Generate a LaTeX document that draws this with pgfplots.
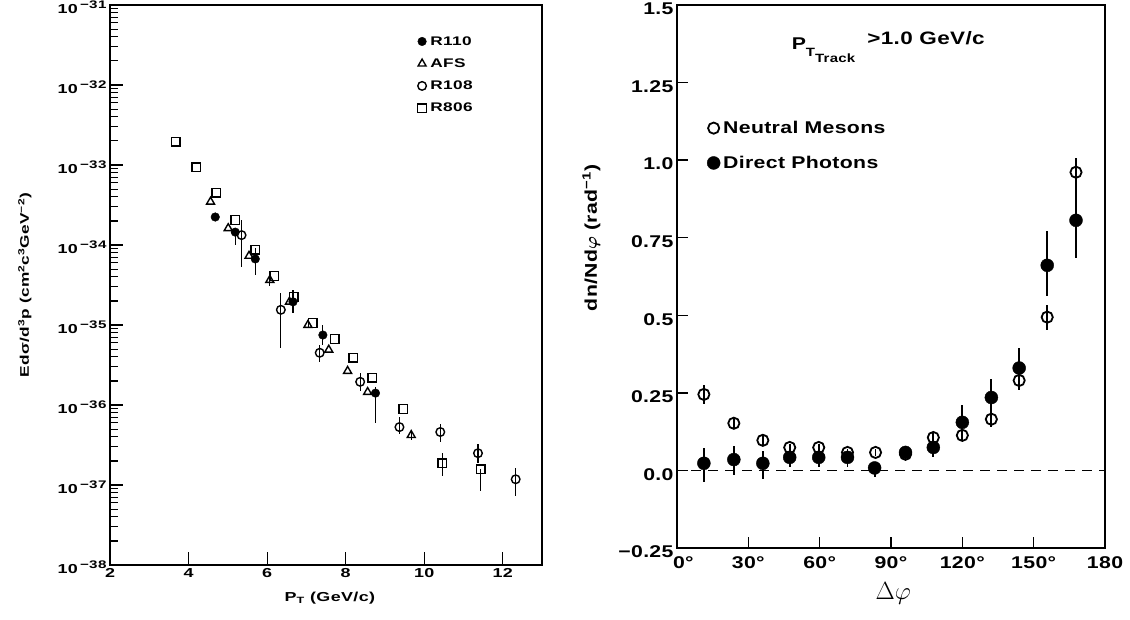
\documentclass[border=0pt]{standalone}
\usepackage{amsmath}
\usepackage{fontspec}
\setmainfont{Liberation Sans}
\newfontfamily\Lf{Liberation Sans}[FakeStretch=1.38, LetterSpace=3]
\newfontfamily\Rf{Liberation Sans}[FakeStretch=1.25, LetterSpace=2]
\usepackage{pgfplots}
\usepackage{pgfplotstable}
\pgfplotsset{compat=1.18}

\pgfplotstableread{
x y ep em
4.68 2.24e-34 0 0
5.19 1.45e-34 0 4.5e-35
5.70 6.7e-35 2.4e-35 2.5e-35
6.66 1.95e-35 8e-36 5.4e-36
7.42 7.5e-36 2.5e-36 1.9e-36
8.76 1.41e-36 2.5e-37 8.1e-37
}\rOneTen
\pgfplotstableread{
x y ep em
4.56 3.47e-34 0 0
5.01 1.62e-34 0 0
5.54 7.3e-35 0 0
6.07 3.65e-35 0 6e-36
6.57 1.95e-35 0 0
7.04 1.0e-35 0 0
7.57 4.9e-36 0 0
8.05 2.66e-36 0 0
8.56 1.45e-36 0 0
9.67 4.2e-37 5e-38 5e-38
}\afs
\pgfplotstableread{
x y ep em
5.35 1.33e-34 7e-35 8e-35
6.35 1.55e-35 1.0e-35 1.03e-35
7.34 4.5e-36 1.1e-36 1.05e-36
8.37 1.95e-36 5.5e-37 4.5e-37
9.37 5.3e-37 1.8e-37 1.0e-37
10.41 4.6e-37 1.2e-37 1.15e-37
11.37 2.5e-37 7.4e-38 6.2e-38
12.33 1.18e-37 4.4e-38 4.5e-38
}\rOneOEight
\pgfplotstableread{
x y ep em
3.67 1.95e-33 0 0
4.20 9.4e-34 0 0
4.71 4.5e-34 0 0
5.19 2.05e-34 0 0
5.70 8.7e-35 0 0
6.18 4.1e-35 0 0
6.68 2.24e-35 0 0
7.16 1.06e-35 0 0
7.72 6.7e-36 0 0
8.20 3.9e-36 0 0
8.68 2.2e-36 0 0
9.47 8.9e-37 0 0
10.46 1.88e-37 6e-38 6e-38
11.44 1.58e-37 0 7.4e-38
}\rEightOSix

\pgfplotstableread{
x y ep em
11.3 0.245 0.03 0.03
23.9 0.152 0.02 0.02
36.1 0.097 0.015 0.015
47.4 0.074 0.01 0.01
59.6 0.074 0.01 0.01
71.7 0.058 0.01 0.01
83.5 0.058 0.01 0.01
96.1 0.052 0.01 0.01
107.8 0.106 0.015 0.015
120.0 0.113 0.015 0.015
132.2 0.165 0.02 0.025
143.9 0.29 0.03 0.03
155.7 0.494 0.04 0.04
167.8 0.961 0.045 0.04
}\mesons
\pgfplotstableread{
x y ep em
11.3 0.023 0.05 0.06
23.9 0.035 0.045 0.05
36.1 0.023 0.04 0.05
47.4 0.042 0.02 0.03
59.6 0.042 0.02 0.03
71.7 0.042 0.02 0.03
83.1 0.008 0.02 0.03
96.1 0.058 0.01 0.01
107.8 0.074 0.025 0.03
120.0 0.155 0.055 0.045
132.2 0.235 0.06 0.06
143.9 0.33 0.065 0.06
155.7 0.661 0.11 0.10
167.8 0.806 0.15 0.12
}\photons

\newcommand{\tenp}[1]{10\,\raisebox{5pt}{\fontsize{11}{11}\selectfont −#1}}

\begin{document}
\begin{tikzpicture}[font=\bfseries]
\useasboundingbox (0pt,0pt) rectangle (1130pt,620pt);

% ---------------- left panel ----------------
\begin{axis}[
  at={(110pt,55pt)}, anchor=south west,
  scale only axis, width=432pt, height=560pt,
  ymode=log, xmin=2, xmax=13, ymin=1e-38, ymax=1e-31,
  xtick={2,4,6,8,10,12},
  xticklabels={2,4,6,8,10,12},
  ytick={1e-38,1e-37,1e-36,1e-35,1e-34,1e-33,1e-32,1e-31},
  yticklabels={\tenp{38},\tenp{37},\tenp{36},\tenp{35},\tenp{34},\tenp{33},\tenp{32},\tenp{31}},
  minor ytick={2e-38,3e-38,4e-38,5e-38,6e-38,7e-38,8e-38,9e-38,
    2e-37,3e-37,4e-37,5e-37,6e-37,7e-37,8e-37,9e-37,
    2e-36,3e-36,4e-36,5e-36,6e-36,7e-36,8e-36,9e-36,
    2e-35,3e-35,4e-35,5e-35,6e-35,7e-35,8e-35,9e-35,
    2e-34,3e-34,4e-34,5e-34,6e-34,7e-34,8e-34,9e-34,
    2e-33,3e-33,4e-33,5e-33,6e-33,7e-33,8e-33,9e-33,
    2e-32,3e-32,4e-32,5e-32,6e-32,7e-32,8e-32,9e-32},
  tick align=inside, xtick pos=bottom, ytick pos=left,
  major tick length=13pt, minor tick length=8pt,
  every tick/.style={black, line width=1.1pt},
  axis line style={line width=1.3pt},
  tick label style={font=\Lf\bfseries\fontsize{13}{14}\selectfont},
  yticklabel style={yshift=-2pt},
  xlabel={P\textsubscript{T} (GeV/c)},
  ylabel={Edσ/d\textsuperscript{3}p (cm\textsuperscript{2}c\textsuperscript{3}GeV\textsuperscript{−2})},
  every axis x label/.style={at={(axis description cs:0.509,-0.059)}, anchor=center, font=\Lf\bfseries\fontsize{13}{15}\selectfont},
  every axis y label/.style={at={(axis description cs:-0.197,0.5)}, anchor=center, rotate=90, font=\Lf\bfseries\fontsize{12.5}{14}\selectfont},
  legend style={at={(axis description cs:0.712,0.948)}, anchor=north west, draw=none, fill=none,
    font=\Lf\bfseries\fontsize{12.5}{14}\selectfont, row sep=8pt, inner sep=0pt,
    nodes={inner xsep=4pt}},
  legend cell align=left,
  error bars/y dir=both, error bars/y explicit,
  error bars/error mark=none,
  error bars/error bar style={line width=1.2pt, black},
]
\addplot[only marks, mark=*, mark size=4.3pt, black]
  table[x=x, y=y, y error plus=ep, y error minus=em] {\rOneTen};
\addlegendentry{R110}
\addplot[only marks, mark=triangle, mark size=4.6pt, black, mark options={line width=1.4pt}]
  table[x=x, y=y, y error plus=ep, y error minus=em] {\afs};
\addlegendentry{AFS}
\addplot[only marks, mark=o, mark size=4.3pt, black, mark options={line width=1.4pt, fill=white}]
  table[x=x, y=y, y error plus=ep, y error minus=em] {\rOneOEight};
\addlegendentry{R108}
\addplot[only marks, mark=square, mark size=4.3pt, black, mark options={line width=1.4pt}]
  table[x=x, y=y, y error plus=ep, y error minus=em] {\rEightOSix};
\addlegendentry{R806}
\end{axis}

% ---------------- right panel ----------------
\begin{axis}[
  at={(677pt,72pt)}, anchor=south west,
  scale only axis, width=428pt, height=543pt,
  xmin=0, xmax=180, ymin=-0.25, ymax=1.5,
  xtick={0,30,60,90,120,150,180},
  xticklabels={\makebox[0pt][l]{\hspace{-4pt}0°},30°,60°,90°,120°,150°,180},
  ytick={-0.25,0,0.25,0.5,0.75,1.0,1.25,1.5},
  yticklabels={−0.25,0.0,0.25,0.5,0.75,1.0,1.25,1.5},
  tick align=inside, xtick pos=bottom, ytick pos=left,
  major tick length=11pt,
  every tick/.style={black, line width=1.5pt},
  axis line style={line width=1.6pt},
  tick label style={font=\Rf\bfseries\fontsize{17}{18}\selectfont},
  yticklabel style={yshift=-4pt},
  xticklabel style={yshift=-5pt},
  xlabel={$\Delta\varphi$},
  ylabel={dn/Nd$\boldsymbol{\varphi}$ (rad\textsuperscript{−1})},
  every axis x label/.style={at={(axis description cs:0.505,-0.083)}, anchor=center, font=\fontsize{24}{26}\selectfont},
  every axis y label/.style={at={(axis description cs:-0.2,0.571)}, anchor=center, rotate=90, font=\Rf\bfseries\fontsize{17}{19}\selectfont},
  legend style={at={(axis description cs:0.07,0.79)}, anchor=north west, draw=none, fill=none,
    font=\Rf\bfseries\fontsize{17}{19}\selectfont, row sep=17pt, inner sep=0pt,
    nodes={inner xsep=3pt}},
  legend cell align=left,
  error bars/y dir=both, error bars/y explicit,
  error bars/error mark=none,
  error bars/error bar style={line width=1.8pt, black},
]
\addplot[black, line width=1.6pt, dash pattern=on 10pt off 7pt, forget plot] coordinates {(6,0) (180,0)};
\addplot[only marks, mark=o, mark size=5.6pt, black, mark options={line width=1.8pt, fill=white}]
  table[x=x, y=y, y error plus=ep, y error minus=em] {\mesons};
\addlegendentry{Neutral Mesons}
\addplot[only marks, mark=*, mark size=6.5pt, black]
  table[x=x, y=y, y error plus=ep, y error minus=em] {\photons};
\addlegendentry{Direct Photons}
\node[anchor=base west, font=\Rf\bfseries\fontsize{17}{19}\selectfont] at (axis description cs:0.26,0.918)
  {P\raisebox{-7pt}{\fontsize{12}{12}\selectfont T\raisebox{-6pt}{Track}}\hspace{12pt}\raisebox{5pt}{\fontsize{18}{19}\selectfont >1.0 GeV/c}};
\end{axis}
\end{tikzpicture}
\end{document}
